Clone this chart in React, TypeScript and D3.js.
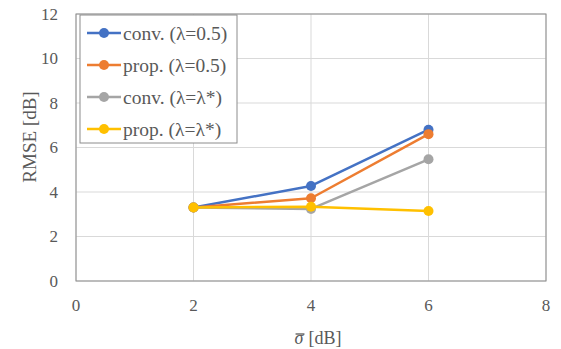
import React, { useRef, useEffect } from "react";
import * as d3 from "d3";

const sigma = [2, 4, 6];
const convHalf = [3.3, 4.27, 6.8];
const propHalf = [3.3, 3.72, 6.6];
const convStar = [3.3, 3.24, 5.47];
const propStar = [3.3, 3.34, 3.15];
const seriesNames = ["conv. (λ=0.5)", "prop. (λ=0.5)", "conv. (λ=λ*)", "prop. (λ=λ*)"];
const seriesColors = ["#4472C4", "#ED7D31", "#A5A5A5", "#FFC000"];
const xTicks = [0, 2, 4, 6, 8];
const yTicks = [0, 2, 4, 6, 8, 10, 12];

const App = () => {
  const svgRef = useRef<SVGSVGElement>(null);

  useEffect(() => {
    const width = 561;
    const height = 349;
    const margin = { top: 14, right: 15, bottom: 68, left: 76 };
    const font = "Liberation Serif, Times New Roman, serif";

    const svg = d3.select(svgRef.current);
    svg.selectAll("*").remove();

    const x = d3.scaleLinear().domain([0, 8]).range([margin.left, width - margin.right]);
    const y = d3.scaleLinear().domain([0, 12]).range([height - margin.bottom, margin.top]);

    // gridlines
    svg
      .append("g")
      .selectAll("line")
      .data(yTicks)
      .join("line")
      .attr("x1", x(0))
      .attr("x2", x(8))
      .attr("y1", (d) => y(d))
      .attr("y2", (d) => y(d))
      .attr("stroke", "#d9d9d9");
    svg
      .append("g")
      .selectAll("line")
      .data(xTicks)
      .join("line")
      .attr("x1", (d) => x(d))
      .attr("x2", (d) => x(d))
      .attr("y1", y(0))
      .attr("y2", y(12))
      .attr("stroke", "#d9d9d9");

    // plot frame
    svg
      .append("rect")
      .attr("x", x(0))
      .attr("y", y(12))
      .attr("width", x(8) - x(0))
      .attr("height", y(0) - y(12))
      .attr("fill", "none")
      .attr("stroke", "#8c8c8c");

    // tick labels
    svg
      .append("g")
      .selectAll("text")
      .data(yTicks)
      .join("text")
      .attr("x", 58)
      .attr("y", (d) => y(d))
      .attr("dy", "0.35em")
      .attr("text-anchor", "end")
      .style("font-family", font)
      .style("font-size", "17px")
      .attr("fill", "#595959")
      .text((d) => d);
    svg
      .append("g")
      .selectAll("text")
      .data(xTicks)
      .join("text")
      .attr("x", (d) => x(d))
      .attr("y", 311)
      .attr("text-anchor", "middle")
      .style("font-family", font)
      .style("font-size", "17px")
      .attr("fill", "#595959")
      .text((d) => d);

    // axis titles
    svg
      .append("text")
      .attr("transform", "translate(36, 137) rotate(-90)")
      .attr("text-anchor", "middle")
      .style("font-family", font)
      .style("font-size", "19px")
      .attr("fill", "#595959")
      .text("RMSE [dB]");
    const xt = svg
      .append("text")
      .attr("x", 318)
      .attr("y", 344)
      .attr("text-anchor", "middle")
      .style("font-family", font)
      .style("font-size", "18px")
      .attr("fill", "#595959");
    xt.append("tspan").attr("font-style", "italic").text("σ");
    xt.append("tspan").attr("dx", 5).text("[dB]");
    // overline above sigma
    const node = xt.node() as SVGTextElement;
    try {
      const ext = node.getExtentOfChar(0);
      svg
        .append("line")
        .attr("x1", ext.x + 1)
        .attr("x2", ext.x + ext.width + 1)
        .attr("y1", 334)
        .attr("y2", 334)
        .attr("stroke", "#595959")
        .attr("stroke-width", 1.3);
    } catch (e) {}

    // series
    const allSeries = [convHalf, propHalf, convStar, propStar];
    const line = d3
      .line<number>()
      .x((d, i) => x(sigma[i]))
      .y((d) => y(d));

    allSeries.forEach((vals, k) => {
      const g = svg.append("g");
      g.append("path")
        .attr("d", line(vals))
        .attr("fill", "none")
        .attr("stroke", seriesColors[k])
        .attr("stroke-width", 2.5)
        .attr("stroke-linejoin", "round");
      g.selectAll("circle")
        .data(vals)
        .join("circle")
        .attr("cx", (d, i) => x(sigma[i]))
        .attr("cy", (d) => y(d))
        .attr("r", 5)
        .attr("fill", seriesColors[k]);
    });

    // legend
    const lg = svg.append("g").attr("transform", "translate(80, 15)");
    lg.append("rect")
      .attr("width", 157)
      .attr("height", 128)
      .attr("fill", "white")
      .attr("stroke", "#8c8c8c");
    seriesNames.forEach((name, k) => {
      const cy = 18 + k * 32;
      lg.append("line")
        .attr("x1", 7)
        .attr("x2", 41)
        .attr("y1", cy)
        .attr("y2", cy)
        .attr("stroke", seriesColors[k])
        .attr("stroke-width", 2.5);
      lg.append("circle").attr("cx", 24).attr("cy", cy).attr("r", 5).attr("fill", seriesColors[k]);
      lg.append("text")
        .attr("x", 43)
        .attr("y", cy)
        .attr("dy", "0.35em")
        .style("font-family", font)
        .style("font-size", "19.5px")
        .attr("fill", "#595959")
        .text(name);
    });
  }, []);

  return (
    <div style={{ position: "fixed", left: 0, top: 0, width: 561, height: 349, background: "white" }}>
      <svg ref={svgRef} width={561} height={349} style={{ display: "block" }} />
    </div>
  );
};

export default App;
